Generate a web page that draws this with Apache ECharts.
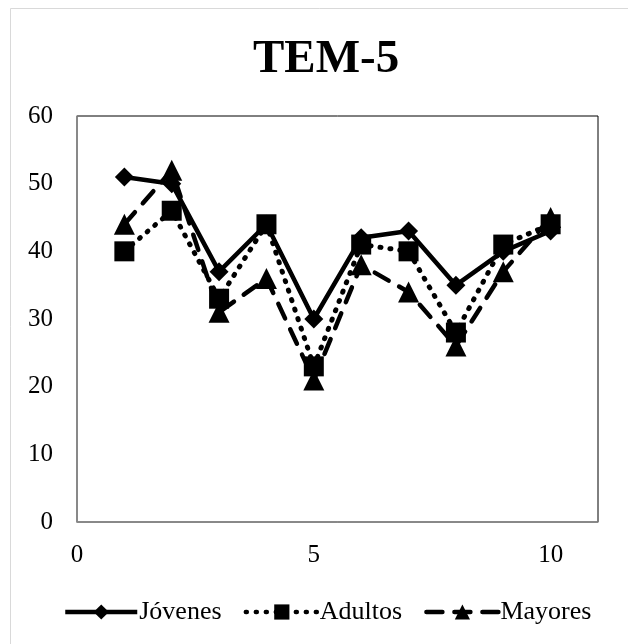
<!DOCTYPE html>
<html>
<head>
<meta charset="utf-8">
<style>
  html, body { margin: 0; padding: 0; background: #fff; }
  #chart { width: 628px; height: 644px; }
</style>
<script src="https://cdn.jsdelivr.net/npm/echarts@6/dist/echarts.min.js"></script>
</head>
<body>
<div id="chart"></div>
<script>
// Test items 1..10 and the scores of each age group
const items = [1, 2, 3, 4, 5, 6, 7, 8, 9, 10];
const jovenes = [51, 50, 37, 44, 30, 42, 43, 35, 40, 43];
const adultos = [40, 46, 33, 44, 23, 41, 40, 28, 41, 44];
const mayores = [44, 52, 31, 36, 21, 38, 34, 26, 37, 45];

const xTicks = [0, 5, 10];
const yTicks = [0, 10, 20, 30, 40, 50, 60];

const FONT = '"Liberation Serif", "Times New Roman", serif';

function pairs(vals) {
  return items.map((x, i) => [x, vals[i]]);
}

const chart = echarts.init(document.getElementById('chart'), null, { renderer: 'canvas' });

chart.setOption({
  backgroundColor: '#fff',
  animation: false,
  graphic: [{
    type: 'rect',
    shape: { x: 10.5, y: 8.5, width: 640, height: 660 },
    style: { fill: 'none', stroke: '#d9d9d9', lineWidth: 1 },
    z: -1
  }],
  title: {
    text: 'TEM-5',
    left: 253,
    top: 36,
    padding: 0,
    textStyle: { fontFamily: FONT, fontSize: 47, fontWeight: 'bold', color: '#000' }
  },
  legend: {
    bottom: 19,
    left: 63,
    itemWidth: 72,
    itemHeight: 19,
    itemGap: 22,
    padding: 0,
    textStyle: { fontFamily: FONT, fontSize: 26, color: '#000', padding: [0, 0, 0, -3] },
    lineStyle: { width: 4.5 },
    data: ['Jóvenes', 'Adultos', 'Mayores']
  },
  grid: {
    left: 77, top: 116, right: 30, bottom: 122,
    show: true, borderColor: '#000', borderWidth: 1
  },
  xAxis: {
    type: 'value',
    min: 0, max: 11, interval: 5,
    splitLine: { show: false },
    axisTick: { show: false },
    axisLine: { show: true, lineStyle: { color: '#8c8c8c', width: 1.5 } },
    axisLabel: {
      margin: 21,
      fontFamily: FONT, fontSize: 25, color: '#000',
      formatter: v => (xTicks.indexOf(v) >= 0 ? String(v) : '')
    }
  },
  yAxis: {
    type: 'value',
    min: 0, max: 60, interval: 10,
    splitLine: { show: false },
    axisTick: { show: false },
    axisLine: { show: true, lineStyle: { color: '#8c8c8c', width: 1.5 } },
    axisLabel: {
      margin: 24,
      fontFamily: FONT, fontSize: 25, color: '#000',
      formatter: v => (yTicks.indexOf(v) >= 0 ? String(v) : '')
    }
  },
  series: [
    {
      name: 'Jóvenes',
      type: 'line',
      data: pairs(jovenes),
      symbol: 'diamond',
      symbolSize: 19,
      z: 2,
      itemStyle: { color: '#000' },
      lineStyle: { color: '#000', width: 4.5, type: 'solid' }
    },
    {
      name: 'Adultos',
      type: 'line',
      data: pairs(adultos),
      symbol: 'rect',
      symbolSize: 20,
      z: 4,
      itemStyle: { color: '#000' },
      lineStyle: { color: '#000', width: 5, type: [1, 9], cap: 'round' }
    },
    {
      name: 'Mayores',
      type: 'line',
      data: pairs(mayores),
      symbol: 'triangle',
      symbolSize: 21,
      z: 3,
      itemStyle: { color: '#000' },
      lineStyle: { color: '#000', width: 4.5, type: [16, 12], cap: 'round' }
    }
  ]
});
</script>
</body>
</html>
